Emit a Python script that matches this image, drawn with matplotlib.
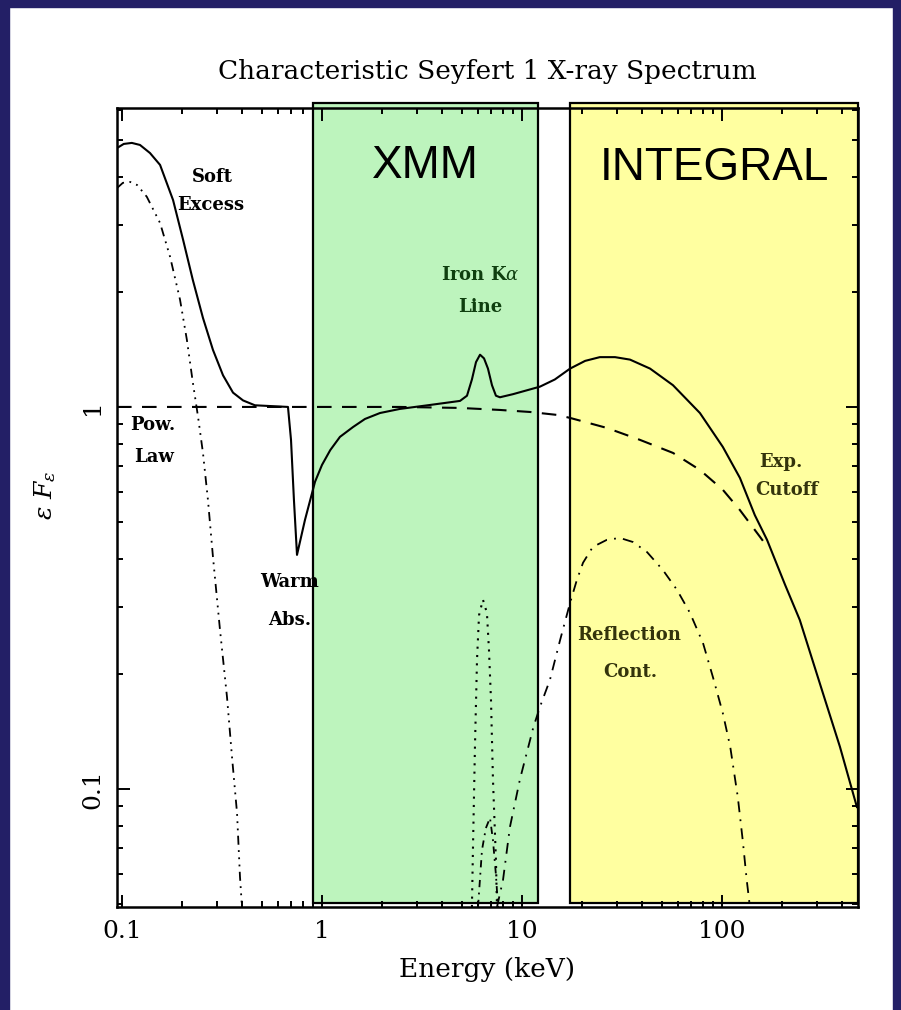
import numpy as np
import matplotlib
matplotlib.use('Agg')
import matplotlib.pyplot as plt
import matplotlib.transforms as mtransforms
from matplotlib.patches import Rectangle
from matplotlib.ticker import LogLocator, NullFormatter, FixedLocator, FixedFormatter

plt.rcParams['font.family'] = 'DejaVu Serif'
plt.rcParams['mathtext.fontset'] = 'dejavuserif'

# --- data (energy in keV, eps*F_eps) ---
total_E = [0.0944, 0.102, 0.112, 0.123, 0.138, 0.155, 0.180, 0.202, 0.226, 0.254,
           0.285, 0.320, 0.359, 0.403, 0.462, 0.676, 0.700, 0.724, 0.750, 0.822,
           0.923, 1.00, 1.10, 1.23, 1.43, 1.64, 1.95, 2.45, 3.47, 4.90,
           5.31, 5.62, 5.89, 6.17, 6.46, 6.76, 7.08, 7.41, 7.76, 9.02,
           12.3, 14.6, 17.4, 20.7, 24.5, 29.2, 34.7, 43.7, 56.9, 77.6,
           101, 123, 146, 168, 207, 245, 320, 389, 473]
total_F = [4.76, 4.88, 4.91, 4.85, 4.62, 4.30, 3.48, 2.74, 2.15, 1.71,
           1.41, 1.21, 1.09, 1.04, 1.01, 1.00, 0.82, 0.571, 0.410, 0.506,
           0.637, 0.705, 0.771, 0.835, 0.886, 0.930, 0.964, 0.988, 1.012, 1.037,
           1.07, 1.18, 1.31, 1.37, 1.34, 1.26, 1.14, 1.07, 1.06, 1.08,
           1.13, 1.18, 1.26, 1.32, 1.35, 1.35, 1.33, 1.26, 1.14, 0.964,
           0.786, 0.652, 0.521, 0.449, 0.342, 0.277, 0.178, 0.129, 0.0897]

powlaw_E = [0.0944, 0.776, 2.45, 4.90, 7.76, 11.0, 15.0, 17.4, 26.6, 38.9,
            56.9, 77.6, 101, 123, 155, 166]
powlaw_F = [1.0, 1.0, 1.0, 0.994, 0.982, 0.970, 0.953, 0.936, 0.881, 0.820,
            0.758, 0.684, 0.607, 0.537, 0.457, 0.435]

soft_E = [0.0944, 0.101, 0.110, 0.119, 0.133, 0.155, 0.174, 0.195, 0.211, 0.226,
          0.240, 0.254, 0.269, 0.285, 0.309, 0.335, 0.355, 0.376, 0.389, 0.398]
soft_F = [3.74, 3.86, 3.88, 3.81, 3.55, 3.03, 2.47, 1.91, 1.50, 1.16,
          0.942, 0.758, 0.571, 0.405, 0.261, 0.174, 0.121, 0.0865, 0.0589, 0.0491]

refl_E = [7.50, 8.04, 8.71, 9.77, 11.4, 12.3, 13.8, 15.5, 17.4, 18.8,
          20.2, 22.6, 26.6, 30.9, 35.9, 42.2, 50.7, 59.6, 69.2, 80.4,
          90.2, 101, 110, 120, 127, 133, 138]
refl_F = [0.0491, 0.0578, 0.0796, 0.106, 0.145, 0.164, 0.193, 0.245, 0.307, 0.352,
          0.391, 0.430, 0.449, 0.454, 0.443, 0.417, 0.374, 0.332, 0.289, 0.241,
          0.196, 0.158, 0.129, 0.0953, 0.0735, 0.0578, 0.0491]

refl_line_E = [6.03, 6.31, 6.60, 6.92, 7.16, 7.41, 7.59]
refl_line_F = [0.0491, 0.0692, 0.079, 0.084, 0.0735, 0.0596, 0.0491]

feline_E = [5.62, 5.69, 5.82, 5.96, 6.10, 6.38, 6.68, 6.84, 7.00, 7.16, 7.41, 7.50]
feline_F = [0.0491, 0.0705, 0.129, 0.218, 0.285, 0.313, 0.289, 0.231, 0.171, 0.106,
            0.0652, 0.0491]

xmm_band = [0.902, 12.0]
integral_band = [17.4, 479]

xtick_vals = [0.1, 1, 10, 100]
xtick_labels = ['0.1', '1', '10', '100']
ytick_vals = [0.1, 1]
ytick_labels = ['0.1', '1']

W, H = 901, 1010
fig = plt.figure(figsize=(W / 100, H / 100), dpi=100)
fig.patch.set_facecolor('white')

# navy frame
navy = '#231f66'
fig.add_artist(Rectangle((0, 0), 9 / W, 1, transform=fig.transFigure, color=navy, zorder=0))
fig.add_artist(Rectangle((0, 1 - 7 / H), 1, 7 / H, transform=fig.transFigure, color=navy, zorder=0))
fig.add_artist(Rectangle((1 - 8 / W, 0), 8 / W, 1, transform=fig.transFigure, color=navy, zorder=0))

ax = fig.add_axes([117 / W, 1 - 907 / H, (858 - 117) / W, (907 - 108) / H])
ax.set_xscale('log')
ax.set_yscale('log')
ax.set_xlim(0.0944, 479)
ax.set_ylim(0.0491, 6.06)

# instrument bands
trans = mtransforms.blended_transform_factory(ax.transData, ax.transAxes)
ax.add_patch(Rectangle((xmm_band[0], 0.005), xmm_band[1] - xmm_band[0], 1.001,
                       transform=trans, facecolor='#bdf4bd', edgecolor='black',
                       lw=1.6, clip_on=False, zorder=0.5))
ax.add_patch(Rectangle((integral_band[0], 0.005), integral_band[1] - integral_band[0], 1.001,
                       transform=trans, facecolor='#ffffa0', edgecolor='black',
                       lw=1.6, clip_on=False, zorder=0.5))

lw = 1.5
ax.plot(total_E, total_F, color='black', lw=lw, solid_joinstyle='round')
ax.plot(powlaw_E, powlaw_F, color='black', lw=lw, linestyle=(0, (7, 5)))
ax.plot(soft_E, soft_F, color='black', lw=1.3, linestyle=(0, (5, 3, 1, 3, 1, 3, 1, 3)))
ax.plot(refl_E, refl_F, color='black', lw=1.3, linestyle=(0, (6, 4, 1, 4)))
ax.plot(refl_line_E, refl_line_F, color='black', lw=1.3, linestyle=(0, (4, 3, 1, 3)))
ax.plot(feline_E, feline_F, color='black', lw=1.5, linestyle=(0, (1, 3)))

for s in ax.spines.values():
    s.set_linewidth(1.8)
ax.tick_params(which='both', direction='in', top=True, right=True, width=1.4)
ax.tick_params(which='major', length=9)
ax.tick_params(which='minor', length=4.5)
ax.xaxis.set_major_locator(FixedLocator(xtick_vals))
ax.xaxis.set_major_formatter(FixedFormatter(xtick_labels))
ax.xaxis.set_minor_locator(LogLocator(base=10, subs=np.arange(2, 10)))
ax.xaxis.set_minor_formatter(NullFormatter())
ax.yaxis.set_major_locator(FixedLocator(ytick_vals))
ax.yaxis.set_major_formatter(FixedFormatter(ytick_labels))
ax.yaxis.set_minor_locator(LogLocator(base=10, subs=np.arange(2, 10)))
ax.yaxis.set_minor_formatter(NullFormatter())
ax.tick_params(axis='x', which='major', labelsize=18, pad=9)
ax.tick_params(axis='y', which='major', labelsize=18, pad=9)
for t in ax.get_yticklabels():
    t.set_rotation(90)
    t.set_va('center')

def ftext(px, py, s, **kw):
    fig.text(px / W, 1 - py / H, s, ha='center', va='center', **kw)

ftext(487, 72, 'Characteristic Seyfert 1 X-ray Spectrum', fontsize=19)
ftext(487, 970, 'Energy (keV)', fontsize=19)
ftext(45, 495, r'$\epsilon\ F_\epsilon$', fontsize=18, rotation=90)

ann = dict(fontsize=13, fontweight='bold')
ftext(212, 177, 'Soft', **ann)
ftext(211, 205, 'Excess', **ann)
ftext(153, 425, 'Pow.', **ann)
ftext(154, 457, 'Law', **ann)
ftext(289, 582, 'Warm', **ann)
ftext(290, 620, 'Abs.', **ann)
ftext(480, 275, 'Iron K$\\alpha$', color='#0f3f0f', **ann)
ftext(480, 307, 'Line', color='#0f3f0f', **ann)
ftext(781, 462, 'Exp.', color='#33330c', **ann)
ftext(787, 490, 'Cutoff', color='#33330c', **ann)
ftext(629, 635, 'Reflection', color='#33330c', **ann)
ftext(630, 672, 'Cont.', color='#33330c', **ann)

big = dict(fontsize=33, family=['Liberation Sans', 'DejaVu Sans'],
           ha='center', va='baseline')
fig.text(425 / W, 1 - 178 / H, 'XMM', **big)
fig.text(714 / W, 1 - 180 / H, 'INTEGRAL', **big)

fig.savefig('out.png', dpi=100)
